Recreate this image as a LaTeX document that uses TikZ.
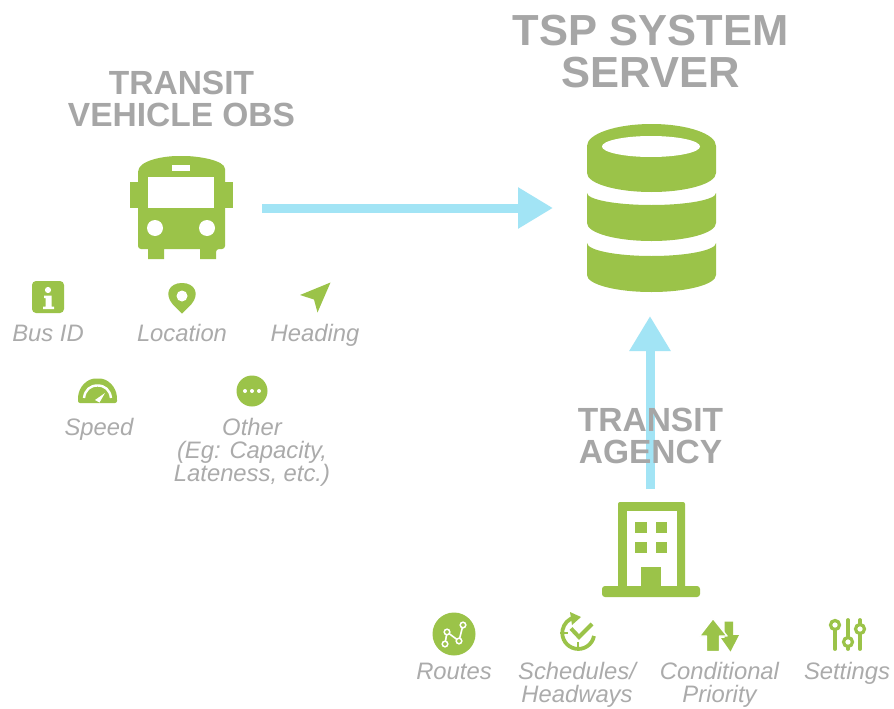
\documentclass[tikz,border=0pt]{standalone}
\usepackage{fontspec}
\setmainfont{Liberation Sans}
\usetikzlibrary{arrows.meta}
\definecolor{leaf}{HTML}{9BC349}
\definecolor{sky}{HTML}{A2E4F5}
\definecolor{ink}{HTML}{A6A6A6}
\definecolor{labelgray}{HTML}{ABABAB}
\tikzset{
  iconfill/.style={fill=leaf,draw=none},
  punch/.style={fill=white,draw=none},
  anchorbox/.style={draw=none,fill=none,inner sep=0pt,outer sep=0pt},
  flow/.style={draw=sky,line width=9pt,-{Triangle[length=35pt,width=39pt,fill=sky]}},
  titlebig/.style={text=ink,inner sep=0pt,align=center,font=\bfseries\fontsize{43.5}{42}\selectfont},
  titlemid/.style={text=ink,inner sep=0pt,align=center,font=\bfseries\fontsize{33.5}{32}\selectfont},
  lbl/.style={text=labelgray,inner sep=0pt,align=center,anchor=base,font=\itshape\fontsize{23.8}{23}\selectfont},
  stroke/.style={draw=leaf,line width=3.8pt,line cap=round},
  knob/.style={draw=leaf,fill=white,line width=3.2pt},
}
\begin{document}
\begin{tikzpicture}[x=1pt,y=-1pt]
\useasboundingbox (0,0) rectangle (894,709);
\fill[white] (0,0) rectangle (894,709);

% anchor boxes for the three icon groups
\node[anchorbox,minimum width=162pt,minimum height=104pt] (bus) at (181,208) {};
\node[anchorbox,minimum width=194pt,minimum height=216pt] (db) at (650,208) {};
\node[anchorbox,minimum width=98pt,minimum height=120pt] (agency) at (650,549) {};

% connectors
\draw[flow] (bus.east) -- (db.west);
\draw[flow] (agency.north) -- (db.south);

% titles
\node[titlebig] (ttsp) at (650.5,52) {TSP SYSTEM\\SERVER};
\node[titlemid] (tbus) at (181.5,99) {TRANSIT\\VEHICLE OBS};
\node[titlemid] (tagency) at (650.5,436) {TRANSIT\\AGENCY};

% bus
\path[iconfill,rounded corners=3pt] (138,172) .. controls (138,160) and (165,156) .. (181,156) .. controls (197,156) and (225,160) .. (225,172)
  -- (225,249) -- (216,249) [sharp corners] -- (216,259) -- (200,259) -- (200,249) -- (164,249) -- (164,259) -- (148,259) -- (148,249) [rounded corners=3pt] -- (138,249) [sharp corners] -- cycle;
\path[iconfill] (130,182) rectangle (138,208);
\path[iconfill] (225,182) rectangle (233,208);
\path[punch] (148,177) rectangle (214,208);
\path[punch] (172,165) rectangle (190,171);
\path[punch] (155,228) circle (8);
\path[punch] (207,228) circle (8);

% database
\path[iconfill] (587,146) arc[start angle=180,end angle=0,x radius=64.5pt,y radius=22pt] -- (716,173) arc[start angle=0,end angle=-180,x radius=64.5pt,y radius=19pt] -- cycle;
\path[punch] (651,146.5) circle[x radius=49pt,y radius=10.5pt];
\path[iconfill] (587,193) arc[start angle=180,end angle=360,x radius=64.5pt,y radius=12pt] -- (716,223) arc[start angle=0,end angle=-180,x radius=64.5pt,y radius=18pt] -- cycle;
\path[iconfill] (587,243) arc[start angle=180,end angle=360,x radius=64.5pt,y radius=13pt] -- (716,275) arc[start angle=0,end angle=-180,x radius=64.5pt,y radius=17pt] -- cycle;

% building
\path[iconfill,rounded corners=2pt] (618,588) -- (618,502) -- (685,502) -- (685,588) -- cycle;
\path[punch] (627,511) rectangle (677,587);
\path[iconfill,rounded corners=3pt] (602,597) -- (602,586) -- (700,586) -- (700,597) -- cycle;
\path[iconfill] (635,522) rectangle (647,533);
\path[iconfill] (656,522) rectangle (667,533);
\path[iconfill] (635,542) rectangle (647,553);
\path[iconfill] (656,542) rectangle (667,553);
\path[iconfill] (641,567) rectangle (661,587);

% info
\path[iconfill,rounded corners=4pt] (32,281) rectangle (64,313);
\path[punch] (48,290) circle (3.1);
\path[punch] (44,295.5) -- (51.5,295.5) -- (51.5,306.5) -- (54,306.5) -- (54,309) -- (43,309) -- (43,306.5) -- (45.5,306.5) -- (45.5,298) -- (44,298) -- cycle;

% pin
\path[iconfill] (182,313.5) -- (172.5,304) .. controls (164,294) and (169,283) .. (182,283) .. controls (195,283) and (200,294) .. (191.5,304) -- cycle;
\path[punch] (182,296) circle (5.5);

% heading
\path[iconfill] (330.5,282.5) -- (300,295) -- (314,299.5) -- (317.5,312.5) -- cycle;

% speed
\path[iconfill,rounded corners=2pt] (78,403) -- (78,398) .. controls (79,387) and (87,378.5) .. (97.5,378.5) .. controls (108,378.5) and (116,387) .. (117,398) -- (117,403) -- cycle;
\draw[white,line width=2.4pt] (84,398) .. controls (85,390) and (90,385.5) .. (97.5,385.5) .. controls (105,385.5) and (110,390) .. (111,398);
\path[punch] (95,400) -- (105,393) -- (99.5,402.5) -- cycle;

% other
\path[iconfill] (252,391) circle (15.5);
\path[punch] (245,391) circle (2);
\path[punch] (252,391) circle (2);
\path[punch] (259,391) circle (2);

% routes
\path[iconfill] (454,634) circle (21.5);
\draw[white,line width=1.6pt] (445,644) -- (447,632) -- (459,641) -- (463,625);
\foreach \cx/\cy in {445/644,447/632,459/641,463/625}{
  \path[fill=leaf,draw=white,line width=1.5pt] (\cx,\cy) circle (2.8);
}

% schedules
\draw[draw=leaf,line width=3.8pt] (594,636) arc[start angle=-11,end angle=-256,radius=16pt];
\path[iconfill] (570,612) -- (581,617) -- (572,625) -- cycle;
\draw[draw=leaf,line width=2.4pt] (560,633) -- (568,633);
\draw[draw=leaf,line width=2.4pt] (578,642) -- (578,650);
\draw[draw=leaf,line width=4pt] (571,628.5) -- (579,637) -- (592,624);

% conditional
\path[iconfill] (724.5,621.5) -- (733,621.5) -- (733,635) -- (739,635) -- (730.5,651.5) -- (721,638) -- (724.5,638) -- cycle;
\path[iconfill,draw=white,line width=1.4pt,line join=round] (713,618.5) -- (727,636) -- (719.5,636) -- (719.5,651.5) -- (706.5,651.5) -- (706.5,636) -- (699.5,636) -- cycle;

% settings
\draw[stroke] (835,628) -- (835,649);
\draw[stroke] (848,620) -- (848,649);
\draw[stroke] (860,620) -- (860,649);
\path[knob] (835,625) circle (4.5);
\path[knob] (848,642) circle (4.5);
\path[knob] (860,629) circle (4.5);

% labels
\node[lbl] (lbus) at (48,341) {Bus ID};
\node[lbl] (lloc) at (182,341) {Location};
\node[lbl] (lhead) at (315,341) {Heading};
\node[lbl] (lspeed) at (99,435) {Speed};
\node[lbl] (lother) at (252,435) {Other};
\node[lbl] (lcap) at (252,458.5) {(Eg: Capacity,};
\node[lbl] (llate) at (252,481) {Lateness, etc.)};
\node[lbl] (lroutes) at (454,679) {Routes};
\node[lbl] (lsched) at (577,679) {Schedules/};
\node[lbl] (lhw) at (577,702) {Headways};
\node[lbl] (lcond) at (719.5,679) {Conditional};
\node[lbl] (lprio) at (719.5,702) {Priority};
\node[lbl] (lset) at (847,679) {Settings};
\end{tikzpicture}
\end{document}
